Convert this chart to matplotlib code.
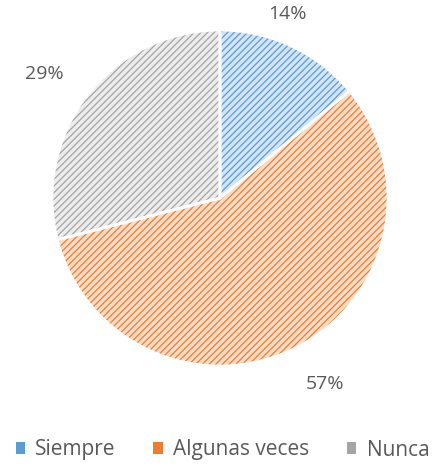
import numpy as np
import matplotlib.pyplot as plt
from matplotlib.patches import Patch

# data
categories = ["Siempre", "Algunas veces", "Nunca"]
values = [14, 57, 29]
line_colors = ["#5B9BD5", "#ED7D31", "#A5A5A5"]
fill_colors = ["#D2E5F5", "#FBDCC6", "#ECECEC"]
label_dist = [1.17, 1.27, 1.28]
label_turn = [5, 2.5, 2.5]

plt.rcParams["font.family"] = ["Open Sans", "DejaVu Sans"]
plt.rcParams["hatch.linewidth"] = 0.9

W, H = 445, 476
fig = plt.figure(figsize=(W / 100, H / 100), dpi=100)

# pie centre at (220, 198) px from top-left, radius 168 px
r = 168.0
cx, cy = 220, 198
ax_top, ax_bot = 0, 400
ax = fig.add_axes([0, (H - ax_bot) / H, 1, (ax_bot - ax_top) / H])

# hatched wedges (hatch colour follows edgecolor)
wedges, texts, autotexts = ax.pie(
    values, colors=fill_colors, startangle=90, counterclock=False,
    autopct="%1.0f%%", pctdistance=1.2, radius=1,
    wedgeprops=dict(linewidth=0, hatch="/////"),
    textprops=dict(fontsize=14, color="#595959"),
)
for w, lc, t, d, a in zip(wedges, line_colors, autotexts, label_dist, label_turn):
    w.set_edgecolor(lc)
    w.set_linewidth(0)
    ang = np.deg2rad((w.theta1 + w.theta2) / 2 + a)
    t.set_position((d * np.cos(ang), d * np.sin(ang)))

# white separators on top
ax.pie(values, startangle=90, counterclock=False, radius=1,
       wedgeprops=dict(facecolor="none", edgecolor="white", linewidth=2))
ax.set_xlim(-cx / r, (W - cx) / r)
ax.set_ylim(-(ax_bot - cy) / r, (cy - ax_top) / r)
ax.set_aspect("equal")
ax.axis("off")

handles = [Patch(facecolor=c, edgecolor="none") for c in line_colors]
fig.legend(handles, categories, loc="center", bbox_to_anchor=(0.5, 1 - 450 / H),
           ncol=3, frameon=False, fontsize=15, handlelength=0.45, handleheight=0.45,
           handletextpad=0.5, columnspacing=1.8, labelcolor="#595959")

fig.savefig("out.png", dpi=100)
